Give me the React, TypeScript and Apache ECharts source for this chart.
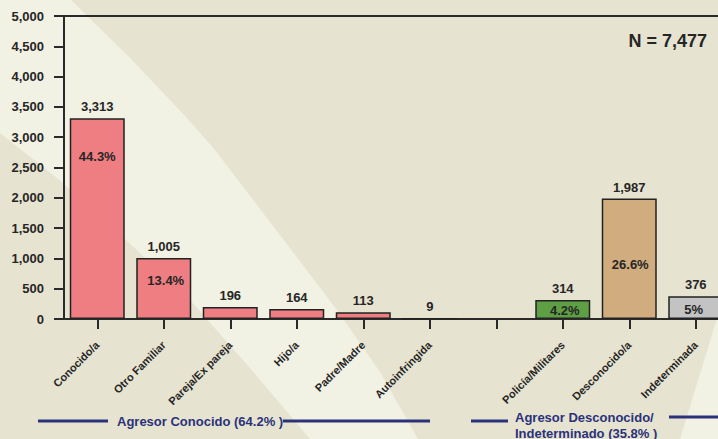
import React, { useEffect, useRef } from 'react';
import * as echarts from 'echarts';

// ---- data ----
const categories = [
  'Conocido/a',
  'Otro Familiar',
  'Pareja/Ex pareja',
  'Hijo/a',
  'Padre/Madre',
  'Autoinfringida',
  '',
  'Policía/Militares',
  'Desconocido/a',
  'Indeterminada',
];
const counts: (number | null)[] = [3313, 1005, 196, 164, 113, 9, null, 314, 1987, 376];
const percentLabels = ['44.3%', '13.4%', '', '', '', '', '', '4.2%', '26.6%', '5%'];
const yMin = 0;
const yMax = 5000;
const yInterval = 500;
const totalLabel = 'N = 7,477';
const groupKnown = 'Agresor Conocido (64.2% )';
const groupUnknown = ['Agresor Desconocido/', 'Indeterminado (35.8% )'];

// ---- styles ----
const barColors = ['#EE7E82', '#EE7E82', '#EE7E82', '#EE7E82', '#EE7E82', '#EE7E82', '#EE7E82', '#5E9E45', '#D0AC7E', '#C3C3C3'];
const pctOffsets: [number, number][] = [
  [0, 27], [2, 11], [0, 0], [0, 0], [0, 0], [0, 0], [0, 0], [2, -1], [1, 54], [-2, 2],
];
const FONT = '"Liberation Sans", Arial, Helvetica, sans-serif';
const INK = '#262626';
const NAVY = '#2B327A';
const BG_DARK = '#E6E4D1';
const BG_LIGHT = '#F1F1E4';

function fmt(v: number) {
  return v.toLocaleString('en-US');
}

export default function App() {
  const ref = useRef<HTMLDivElement>(null);
  useEffect(() => {
    if (!ref.current) return;
    const chart = echarts.init(ref.current, undefined, { renderer: 'svg' });
    const option: any = {
      animation: false,
      backgroundColor: BG_DARK,
      grid: { left: 64, top: 16, width: 665, bottom: 120, containLabel: false, outerBoundsMode: 'none' },
      xAxis: [
        {
          type: 'category',
          data: categories,
          boundaryGap: true,
          axisLine: { show: true, lineStyle: { color: '#2a2a2a', width: 2 } },
          axisTick: { show: true, alignWithLabel: true, length: 10, lineStyle: { color: '#2a2a2a', width: 2 } },
          axisLabel: {
            interval: 0,
            rotate: 45,
            margin: 24,
            fontFamily: FONT,
            fontSize: 11,
            fontWeight: 'bold',
            color: INK,
          },
        },
        {
          type: 'category',
          data: categories,
          position: 'top',
          axisLine: { show: true, lineStyle: { color: '#2a2a2a', width: 1.8 } },
          axisTick: { show: false },
          axisLabel: { show: false },
        },
      ],
      yAxis: {
        type: 'value',
        min: yMin,
        max: yMax,
        interval: yInterval,
        splitLine: { show: false },
        axisLine: { show: true, lineStyle: { color: '#2a2a2a', width: 2 } },
        axisTick: { show: true, length: 10, lineStyle: { color: '#2a2a2a', width: 2 } },
        axisLabel: {
          margin: 20,
          fontFamily: FONT,
          fontSize: 13,
          fontWeight: 'bold',
          color: INK,
          formatter: (v: number) => fmt(v),
        },
      },
      graphic: [
        {
          type: 'polygon',
          z: -10,
          silent: true,
          shape: {
            points: [
              [0, 0], [71, 0], [130, 58], [187, 118], [215, 150], [270, 222], [337, 310], [380, 372], [418, 439],
              [310, 439], [250, 368], [190, 300], [124, 238], [63, 183], [0, 133],
            ],
          },
          style: { fill: BG_LIGHT },
        },
        {
          type: 'polygon',
          z: -10,
          silent: true,
          shape: { points: [[718, 315], [718, 439], [680, 439]] },
          style: { fill: BG_LIGHT },
        },
        {
          type: 'text',
          right: 11,
          top: 32,
          style: { text: totalLabel, fontFamily: FONT, fontSize: 18, fontWeight: 'bold', fill: INK },
        },
        { type: 'line', shape: { x1: 38, y1: 421, x2: 108, y2: 421 }, style: { stroke: NAVY, lineWidth: 3 } },
        {
          type: 'text',
          x: 117,
          y: 421,
          style: { text: groupKnown, fontFamily: FONT, fontSize: 13, fontWeight: 'bold', fill: NAVY, verticalAlign: 'middle' },
        },
        { type: 'line', shape: { x1: 283, y1: 421, x2: 430, y2: 421 }, style: { stroke: NAVY, lineWidth: 3 } },
        { type: 'line', shape: { x1: 471, y1: 421, x2: 508, y2: 421 }, style: { stroke: NAVY, lineWidth: 3 } },
        {
          type: 'text',
          x: 515,
          y: 417,
          style: { text: groupUnknown[0], fontFamily: FONT, fontSize: 13, fontWeight: 'bold', fill: NAVY, verticalAlign: 'middle' },
        },
        {
          type: 'text',
          x: 515,
          y: 433,
          style: { text: groupUnknown[1], fontFamily: FONT, fontSize: 13, fontWeight: 'bold', fill: NAVY, verticalAlign: 'middle' },
        },
        { type: 'line', shape: { x1: 669, y1: 417, x2: 718, y2: 417 }, style: { stroke: NAVY, lineWidth: 3 } },
      ],
      series: [
        {
          type: 'bar',
          barWidth: 55,
          data: counts.map((v, i) =>
            v == null
              ? '-'
              : { value: v, itemStyle: { color: barColors[i] } }
          ),
          itemStyle: { borderColor: '#222', borderWidth: 1.5 },
          label: {
            show: true,
            position: 'top',
            distance: 5,
            fontFamily: FONT,
            fontSize: 13,
            fontWeight: 'bold',
            color: INK,
            formatter: (p: any) => fmt(p.value),
          },
        },
        {
          type: 'bar',
          barWidth: 55,
          barGap: '-100%',
          silent: true,
          data: counts.map((v, i) =>
            v == null
              ? '-'
              : {
                  value: v,
                  label: { offset: pctOffsets[i] },
                }
          ),
          itemStyle: { color: 'rgba(0,0,0,0)', borderWidth: 0 },
          label: {
            show: true,
            position: 'insideTop',
            distance: 5,
            fontFamily: FONT,
            fontSize: 13,
            fontWeight: 'bold',
            color: INK,
            formatter: (p: any) => percentLabels[p.dataIndex],
          },
        },
      ],
    };
    chart.setOption(option);
    return () => chart.dispose();
  }, []);
  return (
    <div
      ref={ref}
      style={{ position: 'absolute', left: 0, top: 0, width: 718, height: 439 }}
    />
  );
}
